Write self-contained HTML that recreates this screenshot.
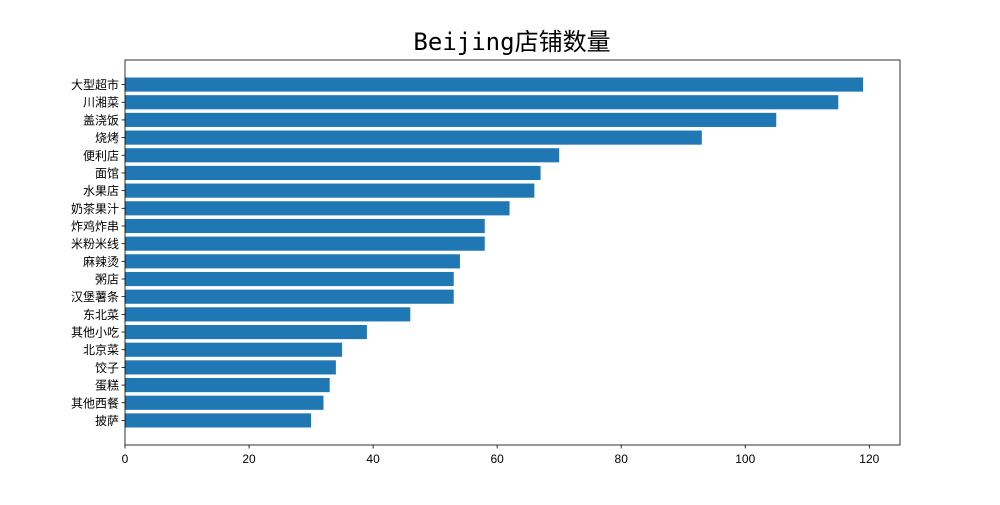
<!DOCTYPE html>
<html><head><meta charset="utf-8"><style>
body{margin:0;background:#fff}
text{font-family:"Liberation Sans","Noto Sans CJK SC","WenQuanYi Zen Hei",sans-serif}
</style></head><body>
<svg id="chart" width="1000" height="500" xmlns="http://www.w3.org/2000/svg">
<text x="512" y="50" text-anchor="middle" font-size="24" fill="#000" style="font-family:'DejaVu Sans Mono','Noto Sans CJK SC',monospace">Beijing店铺数量</text>
<g id="plot"></g>
</svg>
<script>
const categories=["大型超市","川湘菜","盖浇饭","烧烤","便利店","面馆","水果店","奶茶果汁","炸鸡炸串","米粉米线","麻辣烫","粥店","汉堡薯条","东北菜","其他小吃","北京菜","饺子","蛋糕","其他西餐","披萨"];
const values=[119,115,105,93,70,67,66,62,58,58,54,53,53,46,39,35,34,33,32,30];
const xTicks=[0,20,40,60,80,100,120];
const L=125,R=900,T=60,B=445;
const ns="http://www.w3.org/2000/svg";
const g=document.getElementById('plot');
const n=categories.length;
const xmax=Math.max(...values)*1.05;
const xs=v=>L+(v/xmax)*(R-L);
const ylo=-0.4-(n-0.2)*0.05, yhi=n-1+0.4+(n-0.2)*0.05;
const ys=i=>T+(i-ylo)/(yhi-ylo)*(B-T); // i=0 at top
const bh=0.8*(B-T)/(yhi-ylo);
function mk(t,a){const e=document.createElementNS(ns,t);for(const k in a)e.setAttribute(k,a[k]);g.appendChild(e);return e;}
categories.forEach((c,i)=>{
  const r=mk('rect',{x:L,y:ys(i)-bh/2,width:xs(values[i])-L,height:bh,fill:'#1f77b4'});
  
  
  const tk=mk('line',{x1:L-3.5,x2:L,y1:ys(i),y2:ys(i),stroke:'#000','stroke-width':0.8});
  
  
  const t=mk('text',{x:L-6,y:ys(i)+4.5,'text-anchor':'end','font-size':12,fill:'#000'});
  t.textContent=c;
  
  
});
xTicks.forEach(v=>{
  const tk=mk('line',{x1:xs(v),x2:xs(v),y1:B,y2:B+3.5,stroke:'#000','stroke-width':0.8});
  
  
  const t=mk('text',{x:xs(v),y:B+18,'text-anchor':'middle','font-size':12,fill:'#000'});
  t.textContent=v;
  
  
});
const fr=mk('rect',{x:L,y:T,width:R-L,height:B-T,fill:'none',stroke:'#000','stroke-width':0.8});


</script>
</body></html>
